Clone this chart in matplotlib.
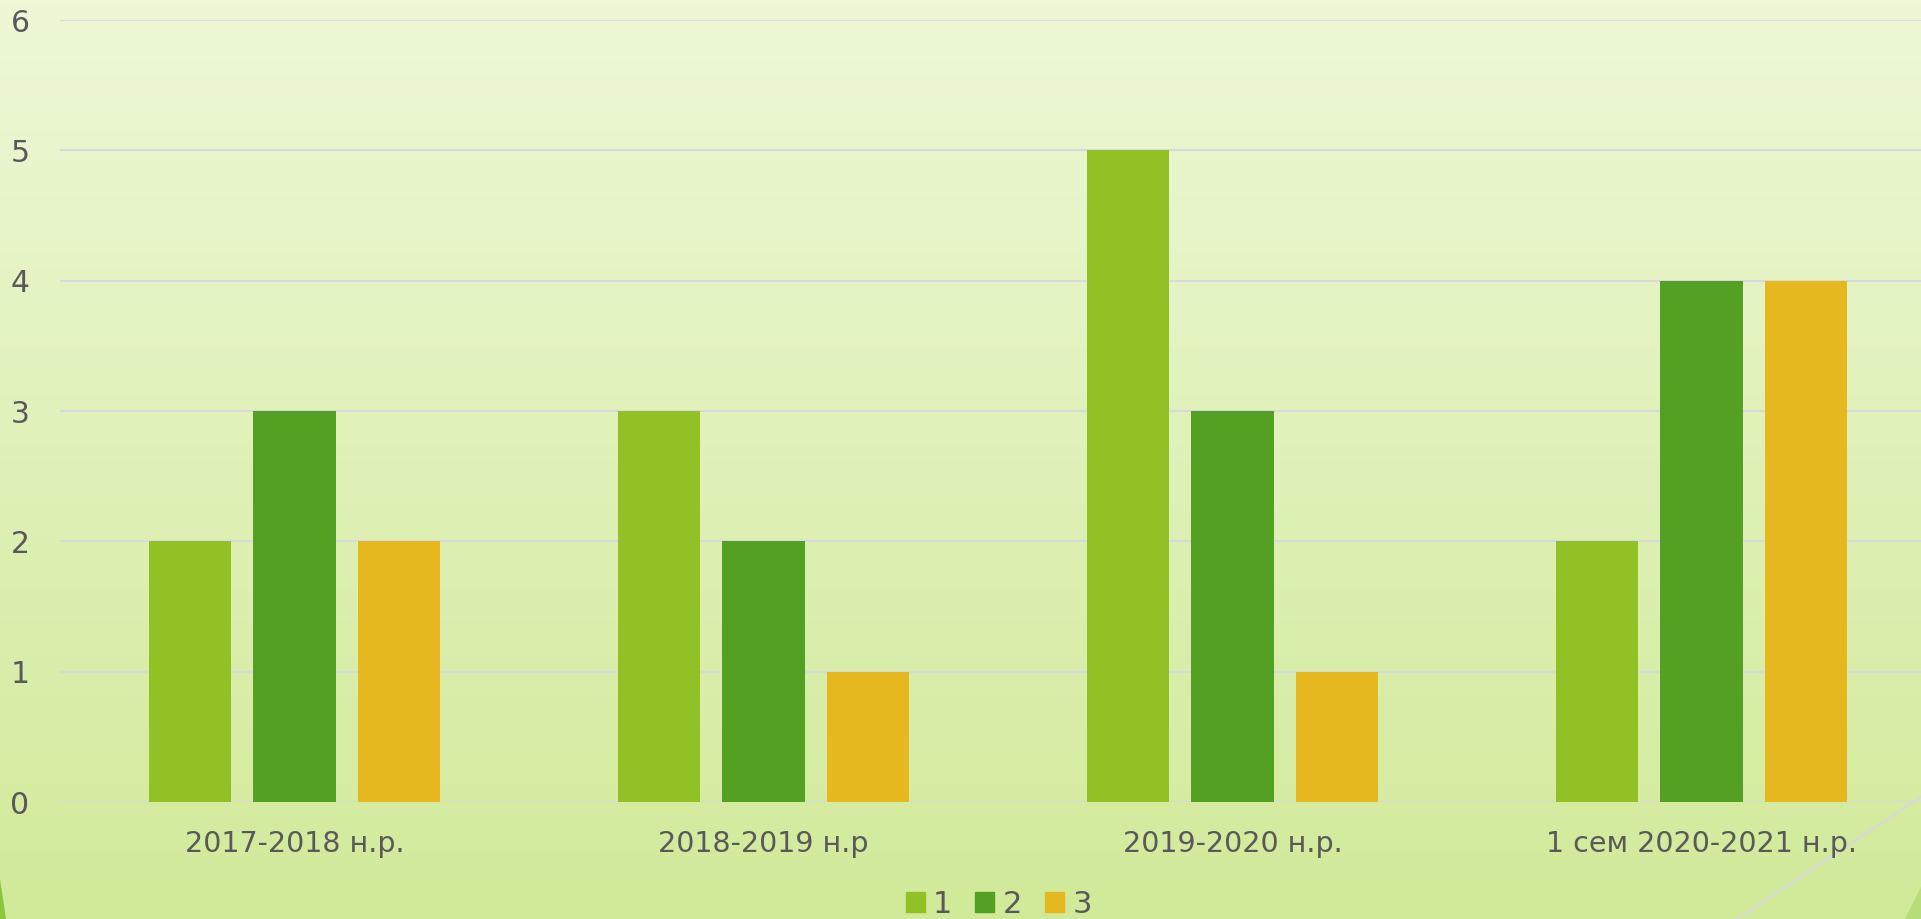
import numpy as np
import matplotlib.pyplot as plt
from matplotlib.patches import Patch, Polygon
from matplotlib.lines import Line2D

categories = ['2017-2018 н.р.', '2018-2019 н.р', '2019-2020 н.р.', '1 сем 2020-2021 н.р.']
series_names = ['1', '2', '3']
s1 = [2, 3, 5, 2]
s2 = [3, 2, 3, 4]
s3 = [2, 1, 1, 4]
colors = ['#92c125', '#53a022', '#e5b81f']

W, H = 1921, 919
fig = plt.figure(figsize=(W / 100, H / 100), dpi=100)

# background gradient
bg = fig.add_axes([0, 0, 1, 1], zorder=-10)
top = np.array([238, 248, 215]) / 255
bot = np.array([209, 234, 153]) / 255
t = np.linspace(0, 1, 256)[:, None]
grad = top[None, :] * (1 - t) + bot[None, :] * t
bg.imshow(grad[:, None, :], aspect='auto', extent=[0, 1, 0, 1])
bg.set_xlim(0, 1)
bg.set_ylim(0, 1)
bg.axis('off')

# slide decorations
bg.add_patch(Polygon([[0, 0], [6 / W, 0], [0, 40 / H]], closed=True, color='#8cc63f', lw=0))
bg.add_patch(Polygon([[1, 0], [1, 32 / H], [1905 / W, 0]], closed=True, color='#b8dc78', lw=0))
bg.add_line(Line2D([1737 / W, 1], [0, (H - 797) / H], color='#d9d9d9', lw=1.5))

# plot area runs a little past the right edge, like in the slide
ax = fig.add_axes([60 / W, 1 - 802 / H, 1876 / W, (802 - 20) / H])
ax.patch.set_alpha(0)

x = np.arange(len(categories))
bw = 0.176
off = 0.2226
for i, (vals, name) in enumerate(zip([s1, s2, s3], series_names)):
    ax.bar(x + (i - 1) * off, vals, width=bw, color=colors[i], label=name, zorder=3)

ax.set_xlim(-0.5, len(categories) - 0.5)
ax.set_ylim(0, 6)
ax.set_yticks(range(0, 7))
ax.set_xticks(x)
ax.set_xticklabels(categories)
ax.grid(axis='y', color='#d9d9d9', lw=1.5, zorder=0)
ax.set_axisbelow(True)
for s in ax.spines.values():
    s.set_visible(False)
ax.tick_params(axis='both', length=0, labelsize=20.5, labelcolor='#595959')
ax.tick_params(axis='y', labelsize=21.5, pad=22)
ax.tick_params(axis='x', pad=20)

handles = [Patch(color=c) for c in colors]
fig.legend(handles, series_names, loc='lower center', bbox_to_anchor=(0.52, -0.03),
           ncol=3, frameon=False, fontsize=22, labelcolor='#595959',
           handlelength=0.62, handleheight=0.62, handletextpad=0.28, columnspacing=0.75)

fig.savefig('out.png', dpi=100)
